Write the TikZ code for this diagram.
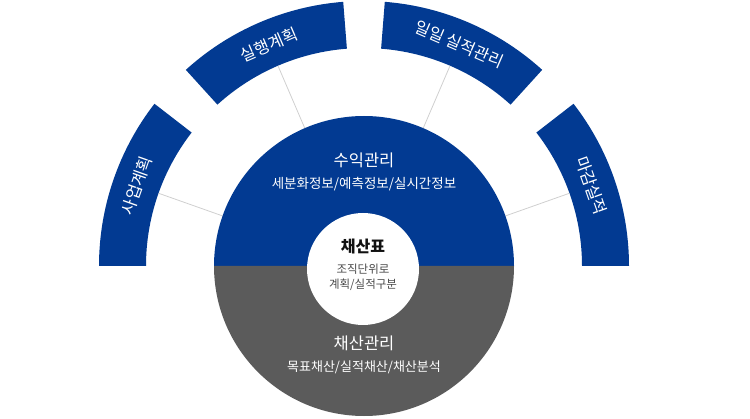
\documentclass[tikz,border=0pt]{standalone}
\usepackage{fontspec}
\newfontfamily\kr{Noto Sans CJK KR}
\usetikzlibrary{positioning}
\definecolor{navy}{HTML}{023A92}
\definecolor{slate}{HTML}{5B5B5B}
\definecolor{hair}{HTML}{CFCFCF}
\definecolor{ink}{HTML}{111111}
\definecolor{muted}{HTML}{4A4A4A}
\newcommand{\fs}[1]{\fontsize{#1}{#1}\selectfont}

\begin{document}
\begin{tikzpicture}[x=1pt, y=1pt, font=\kr]
        \useasboundingbox (0,0) rectangle (750,418);
        % four plan segments round the hub, with thin leaders
        \begin{scope}[shift={(364,152)}]
        \foreach \i/\a/\b/\m/\txt in {1/0/37.75/19.5/마감실적, 2/47.75/85.5/66.75/일일 실적관리,
                                       3/94.5/132.25/113.25/실행계획, 4/142.25/180/160.5/사업계획} {
          \fill[navy] (\a:218) -- (\a:265) arc[start angle=\a, end angle=\b, radius=265]
            -- (\b:218) arc[start angle=\b, end angle=\a, radius=218] -- cycle;
          \coordinate (seg\i) at (\m:218);
          \coordinate (hub\i) at (\m:150);
          \draw[hair, line width=0.8pt] (hub\i) -- (seg\i);
          \node[text=white, font=\kr\fs{16.5}, rotate=\m-90] (lab\i) at (\m:241) {\txt};
        }
        % the hub: revenue on top, profit below
        \fill[navy] (150,0) arc[start angle=0, end angle=180, radius=150] -- cycle;
        \fill[slate] (-150,0) arc[start angle=180, end angle=360, radius=150] -- cycle;
        \end{scope}
        \node[circle, fill=white, minimum size=112pt, inner sep=0pt] (core) at (363,149) {};
        \node[text=white, font=\kr\fs{16.5}] (rev) at (364,258) {수익관리};
        \node[text=white, font=\kr\fs{13.5}, below=3pt of rev] (revsub) {세분화정보/예측정보/실시간정보};
        \node[text=ink, font=\kr\bfseries\fs{16}] (sheet) at (363,171) {채산표};
        \node[text=muted, font=\kr\fontsize{11.5}{15.5}\selectfont, align=center, below=2pt of sheet] (sheetsub) {조직단위로\\계획/실적구분};
        \node[text=white, font=\kr\fs{16.5}] (prof) at (364,75) {채산관리};
        \node[text=white, font=\kr\fs{13}, below=3pt of prof] (profsub) {목표채산/실적채산/채산분석};
      \end{tikzpicture}
\end{document}
